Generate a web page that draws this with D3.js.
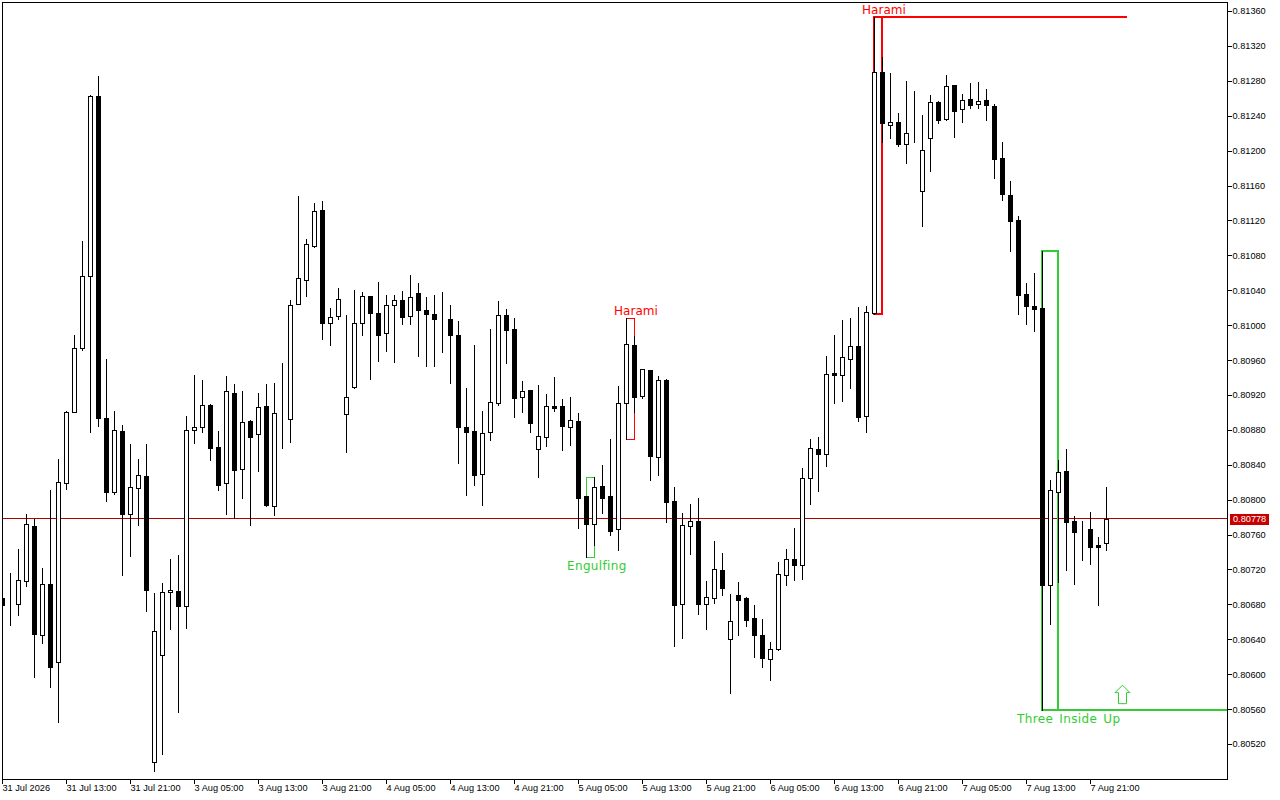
<!DOCTYPE html>
<html>
<head>
  <meta charset="utf-8">
  <title>H1 candles</title>
  <script src="https://d3js.org/d3.v7.min.js"></script>
  <style>
    html, body { margin: 0; padding: 0; background: #fff; }
    svg { display: block; }
    .axis text { font-family: "Liberation Sans", sans-serif; font-size: 9.2px; fill: #000; }
    .axis line { stroke: #000; shape-rendering: crispEdges; }
    .tag { font-family: "DejaVu Sans", sans-serif; font-size: 12px; }
  </style>
</head>
<body>
<script>
// 1. data, one entry per hourly bar
var opens = [
  0.80687,0.80681,0.80681,0.80707,0.80770,0.80645,0.80703,0.80614,0.80819,0.80901,
  0.80974,0.81056,0.81263,0.80894,0.80809,0.80879,0.80784,0.80813,0.80827,0.80499,
  0.80622,0.80694,0.80695,0.80678,0.80880,0.80883,0.80908,0.80860,0.80819,0.80922,
  0.80835,0.80890,0.80875,0.80907,0.80793,0.80898,0.80892,0.81024,0.81052,0.81091,
  0.81132,0.81002,0.81010,0.80898,0.80929,0.81002,0.81033,0.81014,0.80991,0.81023,
  0.81029,0.81010,0.81037,0.81017,0.81013,0.81009,0.81007,0.80989,0.80883,0.80879,
  0.80829,0.80878,0.80911,0.81012,0.80996,0.80918,0.80926,0.80858,0.80872,0.80907,
  0.80907,0.80883,0.80890,0.80804,0.80772,0.80816,0.80804,0.80766,0.80911,0.80977,
  0.80919,0.80949,0.80849,0.80937,0.80798,0.80680,0.80770,0.80776,0.80680,0.80687,
  0.80719,0.80640,0.80691,0.80687,0.80664,0.80645,0.80617,0.80629,0.80714,0.80732,
  0.80725,0.80825,0.80858,0.80852,0.80945,0.80943,0.80961,0.80976,0.80896,0.81014,
  0.81290,0.81229,0.81233,0.81208,0.81221,0.81154,0.81214,0.81256,0.81236,0.81275,
  0.81248,0.81259,0.81253,0.81258,0.81251,0.81192,0.81149,0.81120,0.81036,0.81022,
  0.81020,0.80702,0.80809,0.80833,0.80776,0.80765,0.80766,0.80748,0.80750
];
var highs = [
  0.80687,0.80716,0.80743,0.80784,0.80778,0.80722,0.80811,0.80847,0.80902,0.80989,
  0.81096,0.81264,0.81285,0.80961,0.80902,0.80886,0.80864,0.80847,0.80864,0.80693,
  0.80704,0.80732,0.80737,0.80896,0.80943,0.80937,0.80910,0.80879,0.80942,0.80933,
  0.80924,0.80891,0.80922,0.80933,0.80934,0.80957,0.81029,0.81148,0.81099,0.81140,
  0.81142,0.81020,0.81043,0.81012,0.81040,0.81038,0.81033,0.81049,0.81035,0.81035,
  0.81039,0.81057,0.81048,0.81032,0.81035,0.81038,0.81023,0.81005,0.80928,0.80977,
  0.80902,0.80996,0.81028,0.81018,0.81008,0.80936,0.80926,0.80931,0.80921,0.80941,
  0.80915,0.80918,0.80899,0.80804,0.80826,0.80840,0.80869,0.80930,0.81008,0.80988,
  0.80950,0.80949,0.80942,0.80938,0.80814,0.80785,0.80795,0.80802,0.80707,0.80753,
  0.80739,0.80692,0.80706,0.80688,0.80679,0.80663,0.80637,0.80729,0.80743,0.80767,
  0.80836,0.80869,0.80872,0.80965,0.80989,0.81006,0.81008,0.81021,0.81022,0.81353,
  0.81307,0.81289,0.81243,0.81280,0.81268,0.81241,0.81264,0.81257,0.81287,0.81275,
  0.81265,0.81277,0.81279,0.81271,0.81253,0.81210,0.81165,0.81125,0.81048,0.81060,
  0.81085,0.80822,0.80845,0.80858,0.80781,0.80776,0.80786,0.80757,0.80814
];
var lows = [
  0.80679,0.80656,0.80668,0.80701,0.80597,0.80636,0.80585,0.80545,0.80812,0.80901,
  0.80972,0.80878,0.80884,0.80798,0.80806,0.80714,0.80735,0.80771,0.80672,0.80489,
  0.80508,0.80652,0.80557,0.80653,0.80865,0.80878,0.80845,0.80811,0.80784,0.80779,
  0.80802,0.80771,0.80833,0.80793,0.80782,0.80859,0.80866,0.81024,0.81033,0.81090,
  0.80984,0.80977,0.81007,0.80855,0.80928,0.80989,0.80938,0.80959,0.80970,0.80958,
  0.81001,0.81001,0.80965,0.80953,0.80953,0.80969,0.80934,0.80842,0.80805,0.80817,
  0.80794,0.80868,0.80908,0.80957,0.80895,0.80900,0.80878,0.80826,0.80861,0.80902,
  0.80857,0.80863,0.80767,0.80734,0.80748,0.80785,0.80759,0.80742,0.80869,0.80900,
  0.80916,0.80822,0.80828,0.80774,0.80632,0.80641,0.80738,0.80669,0.80652,0.80682,
  0.80691,0.80578,0.80645,0.80655,0.80620,0.80608,0.80593,0.80628,0.80702,0.80708,
  0.80709,0.80795,0.80810,0.80839,0.80911,0.80913,0.80928,0.80890,0.80878,0.81013,
  0.81210,0.81214,0.81205,0.81186,0.81210,0.81114,0.81177,0.81232,0.81235,0.81216,
  0.81233,0.81249,0.81249,0.81235,0.81169,0.81143,0.81085,0.81013,0.81001,0.80993,
  0.80559,0.80657,0.80706,0.80719,0.80703,0.80731,0.80726,0.80679,0.80742
];
var closes = [
  0.80679,0.80681,0.80708,0.80772,0.80646,0.80703,0.80608,0.80820,0.80900,0.80974,
  0.81056,0.81263,0.80894,0.80809,0.80880,0.80784,0.80814,0.80828,0.80696,0.80649,
  0.80694,0.80696,0.80678,0.80880,0.80883,0.80908,0.80859,0.80817,0.80924,0.80834,
  0.80889,0.80872,0.80906,0.80794,0.80899,0.80898,0.81023,0.81054,0.81093,0.81131,
  0.81002,0.81009,0.81030,0.80918,0.81002,0.81033,0.81014,0.80989,0.81023,0.81029,
  0.81009,0.81032,0.81017,0.81013,0.81007,0.81009,0.80989,0.80883,0.80878,0.80828,
  0.80876,0.80912,0.81012,0.80994,0.80916,0.80924,0.80888,0.80873,0.80907,0.80905,
  0.80884,0.80891,0.80802,0.80772,0.80814,0.80802,0.80764,0.80911,0.80978,0.80918,
  0.80950,0.80850,0.80937,0.80797,0.80679,0.80771,0.80776,0.80680,0.80688,0.80720,
  0.80699,0.80661,0.80685,0.80662,0.80645,0.80619,0.80629,0.80715,0.80732,0.80725,
  0.80825,0.80859,0.80852,0.80944,0.80943,0.80963,0.80976,0.80895,0.81015,0.81290,
  0.81232,0.81233,0.81208,0.81220,0.81221,0.81201,0.81256,0.81235,0.81274,0.81245,
  0.81258,0.81252,0.81257,0.81252,0.81190,0.81150,0.81119,0.81035,0.81022,0.81018,
  0.80702,0.80811,0.80832,0.80774,0.80763,0.80765,0.80746,0.80746,0.80778
];
var lastPrice = 0.80778;

var priceTicks = d3.range(0, 22).map(function(k) { return +(0.80520 + k * 0.0004).toFixed(5); });
var timeTicks = [0, 8, 16, 24, 32, 40, 48, 56, 64, 72, 80, 88, 96, 104, 112, 120, 128, 136];
var timeLabels = ["31 Jul 2026", "31 Jul 13:00", "31 Jul 21:00", "3 Aug 05:00", "3 Aug 13:00", "3 Aug 21:00",
  "4 Aug 05:00", "4 Aug 13:00", "4 Aug 21:00", "5 Aug 05:00", "5 Aug 13:00", "5 Aug 21:00",
  "6 Aug 05:00", "6 Aug 13:00", "6 Aug 21:00", "7 Aug 05:00", "7 Aug 13:00", "7 Aug 21:00"];

// candle patterns: first bar, last bar, top price, bottom price
var patternNames = ["Engulfing", "Harami", "Harami", "Three Inside Up"];
var patternFirst = [73, 78, 109, 130];
var patternLast = [74, 79, 110, 132];
var patternHigh = [0.80826, 0.81008, 0.81353, 0.81085];
var patternLow = [0.80734, 0.80869, 0.81013, 0.80559];

// 2. svg and scales
var width = 1280, height = 800;
var left = 2, top_ = 2, right = 1227, bottom = 779;

var x = d3.scaleLinear().domain([0, 139]).range([2, 1114]);
var y = d3.scaleLinear().domain([0.80520, 0.81360]).range([744, 11]);

var svg = d3.select("body").append("svg").attr("width", width).attr("height", height);
svg.append("rect").attr("width", width).attr("height", height).attr("fill", "#fff");

svg.append("clipPath").attr("id", "plot").append("rect")
  .attr("x", left + 1).attr("y", top_ + 1).attr("width", right - left - 1).attr("height", bottom - top_ - 1);
var plot = svg.append("g").attr("clip-path", "url(#plot)");

function px(v) { return Math.round(v) + 0.5; }

// 3. last price line sits behind everything
plot.append("line")
  .attr("x1", left).attr("x2", right)
  .attr("y1", px(y(lastPrice) - 0.5)).attr("y2", px(y(lastPrice) - 0.5))
  .attr("stroke", "#b00000").attr("shape-rendering", "crispEdges");

// 4. pattern boxes, the two big ones have thick lines and a long level line
var RED = "#ff0000", GREEN = "#32cd32";
var patternColor = [GREEN, RED, RED, GREEN];
var patternThick = [1, 1, 2, 2];

patternNames.forEach(function(name, k) {
  var x0 = x(patternFirst[k]), x1 = x(patternLast[k]);
  var y0 = Math.round(y(patternHigh[k])), y1 = Math.round(y(patternLow[k]));
  var off = patternThick[k] == 1 ? 0.5 : 0;
  plot.append("rect")
    .attr("x", x0 + off).attr("y", y0 + off)
    .attr("width", x1 - x0).attr("height", y1 - y0)
    .attr("fill", "none").attr("stroke", patternColor[k])
    .attr("stroke-width", patternThick[k]).attr("shape-rendering", "crispEdges");
});

// Harami level ends at bar 140.6, the Three Inside Up level runs to the axis
plot.append("line")
  .attr("x1", x(109)).attr("x2", x(140.6))
  .attr("y1", Math.round(y(patternHigh[2]))).attr("y2", Math.round(y(patternHigh[2])))
  .attr("stroke", RED).attr("stroke-width", 2).attr("shape-rendering", "crispEdges");
plot.append("line")
  .attr("x1", x(130)).attr("x2", right)
  .attr("y1", Math.round(y(patternLow[3]))).attr("y2", Math.round(y(patternLow[3])))
  .attr("stroke", GREEN).attr("stroke-width", 2).attr("shape-rendering", "crispEdges");

// 5. candles
var candles = plot.append("g").attr("shape-rendering", "crispEdges");
var bars = candles.selectAll("g").data(d3.range(opens.length)).enter().append("g");

bars.append("line")
  .attr("x1", function(i) { return x(i) + 0.5; })
  .attr("x2", function(i) { return x(i) + 0.5; })
  .attr("y1", function(i) { return Math.round(y(highs[i])); })
  .attr("y2", function(i) { return Math.round(y(lows[i])) + 1; })
  .attr("stroke", "#000");

bars.append("rect")
  .attr("x", function(i) { return x(i) - 1.5; })
  .attr("width", 4)
  .attr("y", function(i) { return px(y(Math.max(opens[i], closes[i]))); })
  .attr("height", function(i) { return Math.round(y(Math.min(opens[i], closes[i]))) - Math.round(y(Math.max(opens[i], closes[i]))); })
  .attr("fill", function(i) { return closes[i] >= opens[i] ? "#fff" : "#000"; })
  .attr("stroke", "#000");

// 6. pattern labels
var labelDx = [-19, -12, -12, -25];
var labelPrice = [patternLow[0], patternHigh[1], patternHigh[2], patternLow[3]];
var labelDy = [13, -3, -3, 13];
var labelSpacing = [0.35, 0.05, 0.05, 0.35];
var labelWordSpacing = [0, 0, 0, 2];
patternNames.forEach(function(name, k) {
  svg.append("text").attr("class", "tag")
    .attr("x", x(patternFirst[k]) + labelDx[k])
    .attr("y", y(labelPrice[k]) + labelDy[k])
    .attr("fill", patternColor[k])
    .attr("letter-spacing", labelSpacing[k])
    .attr("word-spacing", labelWordSpacing[k])
    .text(name);
});

// 7. up arrow of the Three Inside Up signal, glyph drawn around its tip
var arrowBar = 140, arrowPrice = 0.80588;
plot.append("path")
  .attr("transform", "translate(" + x(arrowBar) + "," + y(arrowPrice) + ")")
  .attr("d", "M0.5,0.5 L8,8 L4.5,8 L4.5,19 L-3.5,19 L-3.5,8 L-7,8 Z")
  .attr("fill", "#fff").attr("stroke", GREEN);

// 8. frame and axes
svg.append("path")
  .attr("d", "M" + (left + 0.5) + "," + bottom + "V" + (top_ + 0.5) + "H" + (right + 0.5) + "V" + (bottom + 0.5) + "H" + left)
  .attr("fill", "none").attr("stroke", "#000").attr("shape-rendering", "crispEdges");

var yAxis = d3.axisRight(y).tickValues(priceTicks).tickFormat(d3.format(".5f")).tickSize(4).tickPadding(1);
svg.append("g").attr("class", "axis").attr("transform", "translate(" + (right + 0.5) + ",0)").call(yAxis)
  .call(function(g) { g.select(".domain").remove(); });

var xAxis = d3.axisBottom(x).tickValues(timeTicks).tickFormat(function(d, i) { return timeLabels[i]; }).tickSize(4).tickPadding(1);
svg.append("g").attr("class", "axis").attr("transform", "translate(0," + (bottom + 0.5) + ")").call(xAxis)
  .call(function(g) {
    g.select(".domain").remove();
    g.selectAll("text").attr("text-anchor", "start").attr("dy", "0.71em");
  });

// 9. last price badge
svg.append("rect")
  .attr("x", 1230).attr("width", 39)
  .attr("y", Math.round(y(lastPrice)) - 5).attr("height", 11)
  .attr("fill", "#c80000");
svg.append("text")
  .attr("x", 1233).attr("y", y(lastPrice)).attr("dy", "0.36em")
  .attr("font-family", "Liberation Sans, sans-serif").attr("font-size", "9.2px")
  .attr("fill", "#fff")
  .text(d3.format(".5f")(lastPrice));
</script>
</body>
</html>
